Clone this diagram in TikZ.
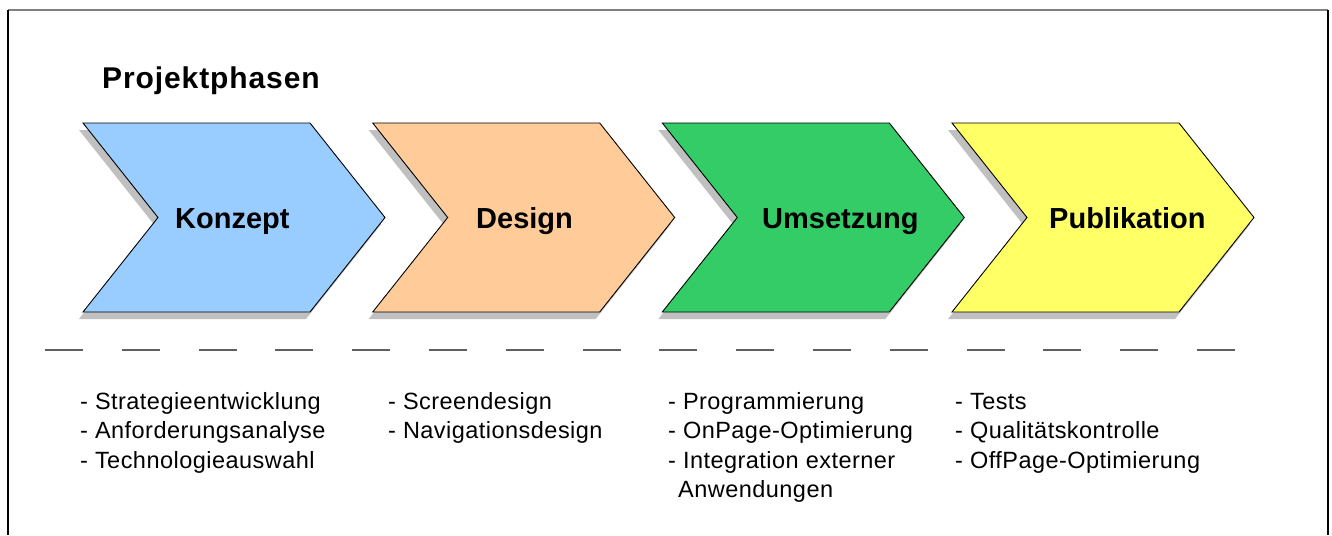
\documentclass[tikz,border=0pt]{standalone}
\usepackage{fontspec}
\setmainfont{Liberation Sans}
\newfontfamily\listfont[LetterSpace=2]{Liberation Sans}
\newfontfamily\titlefont[LetterSpace=3]{Liberation Sans}
\definecolor{cblue}{HTML}{99CCFF}
\definecolor{corange}{HTML}{FFCC99}
\definecolor{cgreen}{HTML}{33CC66}
\definecolor{cyellow}{HTML}{FFFF66}
\definecolor{cshadow}{HTML}{C0C0C0}
\definecolor{cdash}{HTML}{606060}
\tikzset{
  phaselabel/.style={anchor=base west, inner sep=0pt, font=\fontsize{29}{34}\selectfont\bfseries},
  listtext/.style={anchor=base west, inner sep=0pt, align=left, font=\listfont\fontsize{23.5}{29.5}\selectfont},
  chevfill/.style={draw=black, line width=0.9pt, line join=miter},
}
\newcommand{\chevpath}[1]{(#1,123) -- (#1+227,123) -- (#1+302,217.5) -- (#1+227,312) -- (#1,312) -- (#1+75,217.5) -- cycle}
\newcommand{\chevron}[2]{%
  \fill[cshadow] [shift={(-4,7)}] \chevpath{#1};
  \filldraw[chevfill, fill=#2] \chevpath{#1};
}
\begin{document}
\begin{tikzpicture}[x=1pt,y=-1pt]
\useasboundingbox (0,0) rectangle (1332,535);
\fill[white] (0,0) rectangle (1332,535);
% frame
\draw[line width=1.2pt, gray] (8,10) -- (1328,10);
\draw[line width=1.2pt, black] (8,10) -- (8,535);
\draw[line width=1.2pt, black] (1328,10) -- (1328,535);
% title
\node[anchor=base west, inner sep=0pt, font=\titlefont\fontsize{30}{36}\selectfont\bfseries] (title) at (102,88) {Projektphasen};
% chevrons
\chevron{83}{cblue}
\chevron{372.7}{corange}
\chevron{662.3}{cgreen}
\chevron{952}{cyellow}
\node[phaselabel] (konzept) at (175,228) {Konzept};
\node[phaselabel] (design) at (476,228) {Design};
\node[phaselabel] (umsetzung) at (762,228) {Umsetzung};
\node[phaselabel] (publikation) at (1049,228) {Publikation};
% dashed line
\foreach \i in {0,...,15} {
  \draw[cdash, line width=1.4pt] (45+\i*76.8,350) -- (83+\i*76.8,350);
}
% lists (base anchor = baseline of last line)
\node[listtext] (l1) at (80,468) {- Strategieentwicklung\\- Anforderungsanalyse\\- Technologieauswahl};
\node[listtext] (l2) at (388,438.5) {- Screendesign\\- Navigationsdesign};
\node[listtext] (l3) at (668,497.5) {- Programmierung\\- OnPage-Optimierung\\- Integration externer\\\hspace*{10pt}Anwendungen};
\node[listtext] (l4) at (955,468) {- Tests\\- Qualitätskontrolle\\- OffPage-Optimierung};
\end{tikzpicture}
\end{document}
